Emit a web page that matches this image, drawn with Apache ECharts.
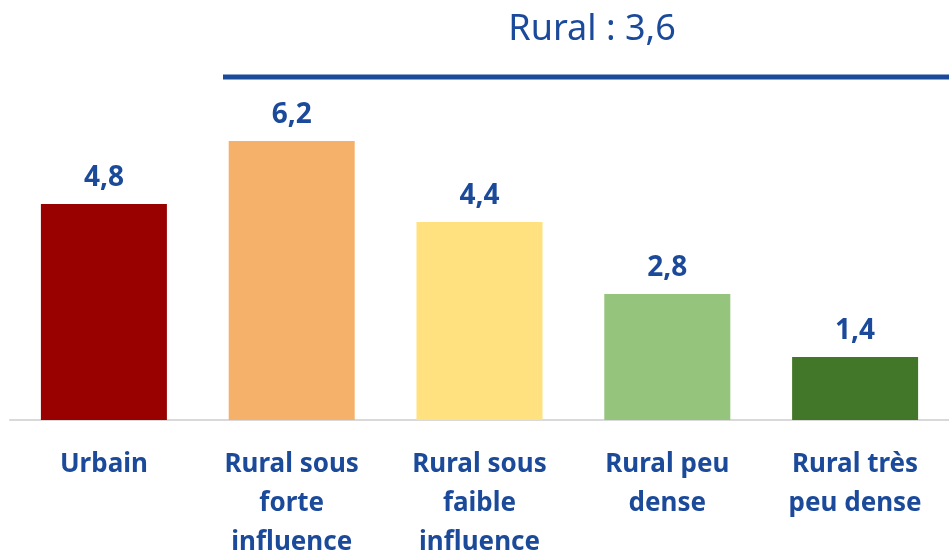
<!DOCTYPE html>
<html>
<head>
<meta charset="utf-8">
<script src="https://cdn.jsdelivr.net/npm/echarts@6/dist/echarts.min.js"></script>
<style>
    html, body { margin:0; padding:0; background:#fff; }
    #chart { width:949px; height:554px; }
</style>
</head>
<body>
<div id="chart"></div>
<script>
// 数据
var categories = ['Urbain', 'Rural sous\nforte\ninfluence', 'Rural sous\nfaible\ninfluence', 'Rural peu\ndense', 'Rural très\npeu dense'];
var values = [4.8, 6.2, 4.4, 2.8, 1.4];
var barColors = ['#990000', '#f5b06a', '#ffe17f', '#95c47c', '#42772a'];
var ruralLabel = 'Rural : 3,6';

var textBlue = '#1c4a9a';
var font = '"Noto Sans", "DejaVu Sans", sans-serif';

var chart = echarts.init(document.getElementById('chart'));

var option = {
    animation: false,
    grid: {
        left: 10,
        right: 0,
        top: 105,
        bottom: 134,
        containLabel: false,
        outerBoundsMode: 'none'   // 不让标签挤压绘图区
    },
    xAxis: {
        type: 'category',
        data: categories,
        axisLine: { show: true, lineStyle: { color: '#d9d9d9', width: 2 } },
        axisTick: { show: false },
        axisLabel: {
            interval: 0,
            margin: 25,
            color: textBlue,
            fontFamily: font,
            fontWeight: 'bold',
            fontSize: 26,
            lineHeight: 39
        }
    },
    yAxis: {
        type: 'value',
        min: 0,
        max: 7,
        show: false,
        splitLine: { show: false }
    },
    series: [{
        type: 'bar',
        barWidth: 126,
        data: values.map(function(v, i){
            return { value: v, itemStyle: { color: barColors[i] } };
        }),
        label: {
            show: true,
            position: 'top',
            distance: 12,
            color: textBlue,
            fontFamily: font,
            fontWeight: 'bold',
            fontSize: 28,
            formatter: function(p){ return String(p.value).replace('.', ','); }
        }
    }],
    // 农村总体标注
    graphic: [{
        type: 'line',
        shape: { x1: 223, y1: 77, x2: 949, y2: 77 },
        style: { stroke: '#1c4a9a', lineWidth: 5 }
    }, {
        type: 'text',
        x: 592,
        y: 30,
        style: {
            text: ruralLabel,
            fill: textBlue,
            font: '36px ' + font,
            textAlign: 'center',
            textVerticalAlign: 'middle'
        }
    }]
};

chart.setOption(option);
</script>
</body>
</html>
